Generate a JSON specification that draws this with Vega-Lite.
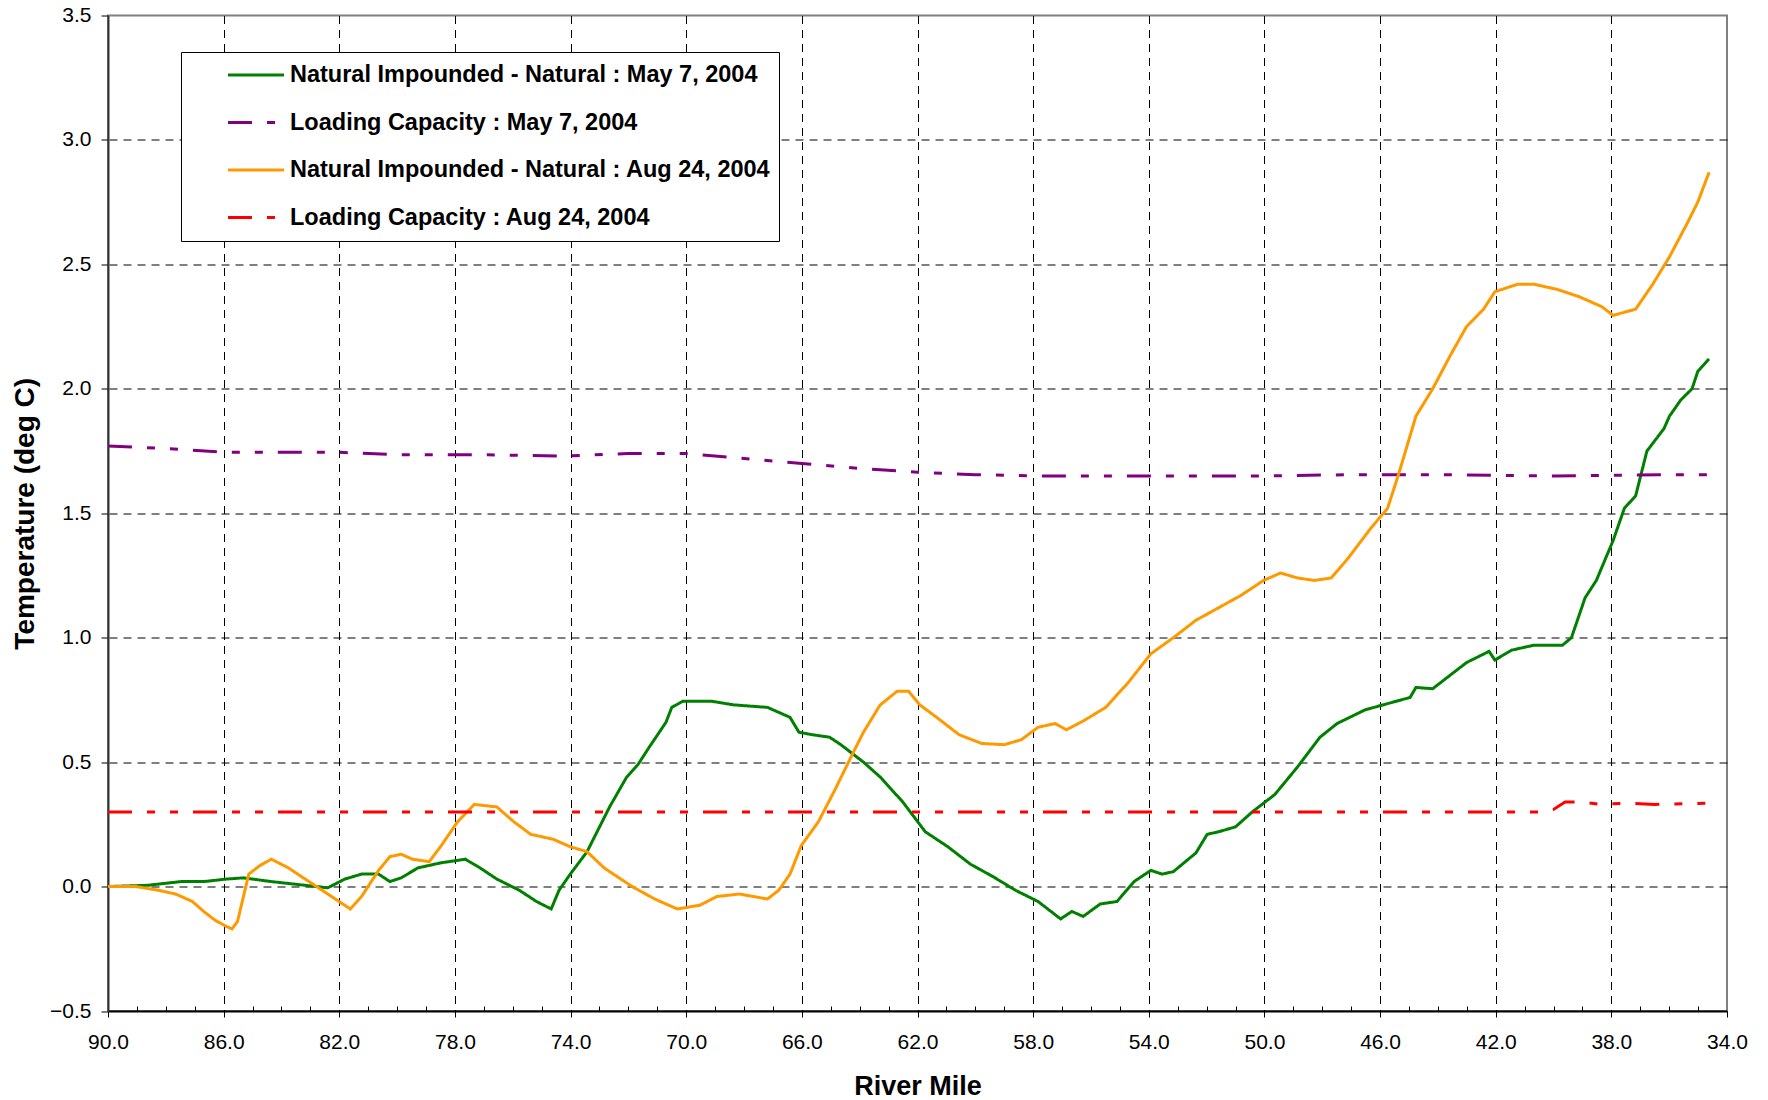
{
  "$schema": "https://vega.github.io/schema/vega-lite/v6.json",
  "width": 1619,
  "height": 995.5,
  "autosize": {"type": "none"},
  "padding": {"left": 108, "top": 15.5, "right": 41, "bottom": 89},
  "background": "white",
  "config": {"view": {"stroke": "#808080", "strokeWidth": 2}, "font": "Liberation Sans"},
  "data": {"values": [
    {"series": "Natural Impounded - Natural : May 7, 2004", "mile": 90.0, "temp": 0.0},
    {"series": "Natural Impounded - Natural : May 7, 2004", "mile": 88.64, "temp": 0.005},
    {"series": "Natural Impounded - Natural : May 7, 2004", "mile": 87.47, "temp": 0.02},
    {"series": "Natural Impounded - Natural : May 7, 2004", "mile": 86.69, "temp": 0.02},
    {"series": "Natural Impounded - Natural : May 7, 2004", "mile": 85.91, "temp": 0.03},
    {"series": "Natural Impounded - Natural : May 7, 2004", "mile": 85.32, "temp": 0.035},
    {"series": "Natural Impounded - Natural : May 7, 2004", "mile": 84.35, "temp": 0.02},
    {"series": "Natural Impounded - Natural : May 7, 2004", "mile": 83.57, "temp": 0.01},
    {"series": "Natural Impounded - Natural : May 7, 2004", "mile": 82.4, "temp": -0.005},
    {"series": "Natural Impounded - Natural : May 7, 2004", "mile": 81.81, "temp": 0.03},
    {"series": "Natural Impounded - Natural : May 7, 2004", "mile": 81.23, "temp": 0.05},
    {"series": "Natural Impounded - Natural : May 7, 2004", "mile": 80.64, "temp": 0.05},
    {"series": "Natural Impounded - Natural : May 7, 2004", "mile": 80.25, "temp": 0.02},
    {"series": "Natural Impounded - Natural : May 7, 2004", "mile": 79.86, "temp": 0.035},
    {"series": "Natural Impounded - Natural : May 7, 2004", "mile": 79.28, "temp": 0.075},
    {"series": "Natural Impounded - Natural : May 7, 2004", "mile": 78.5, "temp": 0.095},
    {"series": "Natural Impounded - Natural : May 7, 2004", "mile": 77.64, "temp": 0.11},
    {"series": "Natural Impounded - Natural : May 7, 2004", "mile": 77.13, "temp": 0.075},
    {"series": "Natural Impounded - Natural : May 7, 2004", "mile": 76.55, "temp": 0.03},
    {"series": "Natural Impounded - Natural : May 7, 2004", "mile": 75.77, "temp": -0.015},
    {"series": "Natural Impounded - Natural : May 7, 2004", "mile": 75.18, "temp": -0.06},
    {"series": "Natural Impounded - Natural : May 7, 2004", "mile": 74.67, "temp": -0.09},
    {"series": "Natural Impounded - Natural : May 7, 2004", "mile": 74.4, "temp": -0.015},
    {"series": "Natural Impounded - Natural : May 7, 2004", "mile": 74.01, "temp": 0.05},
    {"series": "Natural Impounded - Natural : May 7, 2004", "mile": 73.43, "temp": 0.14},
    {"series": "Natural Impounded - Natural : May 7, 2004", "mile": 73.04, "temp": 0.23},
    {"series": "Natural Impounded - Natural : May 7, 2004", "mile": 72.65, "temp": 0.32},
    {"series": "Natural Impounded - Natural : May 7, 2004", "mile": 72.06, "temp": 0.44},
    {"series": "Natural Impounded - Natural : May 7, 2004", "mile": 71.67, "temp": 0.49},
    {"series": "Natural Impounded - Natural : May 7, 2004", "mile": 71.28, "temp": 0.56},
    {"series": "Natural Impounded - Natural : May 7, 2004", "mile": 70.7, "temp": 0.66},
    {"series": "Natural Impounded - Natural : May 7, 2004", "mile": 70.5, "temp": 0.72},
    {"series": "Natural Impounded - Natural : May 7, 2004", "mile": 70.11, "temp": 0.745},
    {"series": "Natural Impounded - Natural : May 7, 2004", "mile": 69.14, "temp": 0.745},
    {"series": "Natural Impounded - Natural : May 7, 2004", "mile": 68.36, "temp": 0.73},
    {"series": "Natural Impounded - Natural : May 7, 2004", "mile": 67.19, "temp": 0.72},
    {"series": "Natural Impounded - Natural : May 7, 2004", "mile": 66.41, "temp": 0.68},
    {"series": "Natural Impounded - Natural : May 7, 2004", "mile": 66.1, "temp": 0.62},
    {"series": "Natural Impounded - Natural : May 7, 2004", "mile": 65.63, "temp": 0.61},
    {"series": "Natural Impounded - Natural : May 7, 2004", "mile": 65.04, "temp": 0.6},
    {"series": "Natural Impounded - Natural : May 7, 2004", "mile": 64.65, "temp": 0.57},
    {"series": "Natural Impounded - Natural : May 7, 2004", "mile": 63.87, "temp": 0.5},
    {"series": "Natural Impounded - Natural : May 7, 2004", "mile": 63.29, "temp": 0.44},
    {"series": "Natural Impounded - Natural : May 7, 2004", "mile": 62.51, "temp": 0.34},
    {"series": "Natural Impounded - Natural : May 7, 2004", "mile": 61.73, "temp": 0.22},
    {"series": "Natural Impounded - Natural : May 7, 2004", "mile": 60.95, "temp": 0.16},
    {"series": "Natural Impounded - Natural : May 7, 2004", "mile": 60.17, "temp": 0.09},
    {"series": "Natural Impounded - Natural : May 7, 2004", "mile": 59.39, "temp": 0.04},
    {"series": "Natural Impounded - Natural : May 7, 2004", "mile": 58.61, "temp": -0.015},
    {"series": "Natural Impounded - Natural : May 7, 2004", "mile": 57.83, "temp": -0.06},
    {"series": "Natural Impounded - Natural : May 7, 2004", "mile": 57.05, "temp": -0.13},
    {"series": "Natural Impounded - Natural : May 7, 2004", "mile": 56.66, "temp": -0.1},
    {"series": "Natural Impounded - Natural : May 7, 2004", "mile": 56.27, "temp": -0.12},
    {"series": "Natural Impounded - Natural : May 7, 2004", "mile": 55.68, "temp": -0.07},
    {"series": "Natural Impounded - Natural : May 7, 2004", "mile": 55.1, "temp": -0.06},
    {"series": "Natural Impounded - Natural : May 7, 2004", "mile": 54.51, "temp": 0.02},
    {"series": "Natural Impounded - Natural : May 7, 2004", "mile": 53.93, "temp": 0.065},
    {"series": "Natural Impounded - Natural : May 7, 2004", "mile": 53.54, "temp": 0.05},
    {"series": "Natural Impounded - Natural : May 7, 2004", "mile": 53.15, "temp": 0.06},
    {"series": "Natural Impounded - Natural : May 7, 2004", "mile": 52.37, "temp": 0.135},
    {"series": "Natural Impounded - Natural : May 7, 2004", "mile": 51.98, "temp": 0.21},
    {"series": "Natural Impounded - Natural : May 7, 2004", "mile": 51.59, "temp": 0.22},
    {"series": "Natural Impounded - Natural : May 7, 2004", "mile": 51.0, "temp": 0.24},
    {"series": "Natural Impounded - Natural : May 7, 2004", "mile": 50.42, "temp": 0.3},
    {"series": "Natural Impounded - Natural : May 7, 2004", "mile": 49.64, "temp": 0.37},
    {"series": "Natural Impounded - Natural : May 7, 2004", "mile": 48.86, "temp": 0.48},
    {"series": "Natural Impounded - Natural : May 7, 2004", "mile": 48.08, "temp": 0.6},
    {"series": "Natural Impounded - Natural : May 7, 2004", "mile": 47.49, "temp": 0.655},
    {"series": "Natural Impounded - Natural : May 7, 2004", "mile": 46.52, "temp": 0.71},
    {"series": "Natural Impounded - Natural : May 7, 2004", "mile": 45.74, "temp": 0.735},
    {"series": "Natural Impounded - Natural : May 7, 2004", "mile": 44.96, "temp": 0.76},
    {"series": "Natural Impounded - Natural : May 7, 2004", "mile": 44.76, "temp": 0.8},
    {"series": "Natural Impounded - Natural : May 7, 2004", "mile": 44.18, "temp": 0.795},
    {"series": "Natural Impounded - Natural : May 7, 2004", "mile": 43.79, "temp": 0.83},
    {"series": "Natural Impounded - Natural : May 7, 2004", "mile": 43.01, "temp": 0.9},
    {"series": "Natural Impounded - Natural : May 7, 2004", "mile": 42.23, "temp": 0.945},
    {"series": "Natural Impounded - Natural : May 7, 2004", "mile": 42.03, "temp": 0.91},
    {"series": "Natural Impounded - Natural : May 7, 2004", "mile": 41.45, "temp": 0.95},
    {"series": "Natural Impounded - Natural : May 7, 2004", "mile": 40.67, "temp": 0.97},
    {"series": "Natural Impounded - Natural : May 7, 2004", "mile": 39.69, "temp": 0.97},
    {"series": "Natural Impounded - Natural : May 7, 2004", "mile": 39.38, "temp": 1.0},
    {"series": "Natural Impounded - Natural : May 7, 2004", "mile": 38.91, "temp": 1.16},
    {"series": "Natural Impounded - Natural : May 7, 2004", "mile": 38.52, "temp": 1.23},
    {"series": "Natural Impounded - Natural : May 7, 2004", "mile": 37.94, "temp": 1.39},
    {"series": "Natural Impounded - Natural : May 7, 2004", "mile": 37.55, "temp": 1.52},
    {"series": "Natural Impounded - Natural : May 7, 2004", "mile": 37.16, "temp": 1.57},
    {"series": "Natural Impounded - Natural : May 7, 2004", "mile": 36.77, "temp": 1.75},
    {"series": "Natural Impounded - Natural : May 7, 2004", "mile": 36.18, "temp": 1.84},
    {"series": "Natural Impounded - Natural : May 7, 2004", "mile": 35.99, "temp": 1.89},
    {"series": "Natural Impounded - Natural : May 7, 2004", "mile": 35.6, "temp": 1.955},
    {"series": "Natural Impounded - Natural : May 7, 2004", "mile": 35.21, "temp": 2.0},
    {"series": "Natural Impounded - Natural : May 7, 2004", "mile": 35.01, "temp": 2.07},
    {"series": "Natural Impounded - Natural : May 7, 2004", "mile": 34.62, "temp": 2.12},

    {"series": "Loading Capacity : May 7, 2004", "mile": 90.0, "temp": 1.77},
    {"series": "Loading Capacity : May 7, 2004", "mile": 88.0, "temp": 1.76},
    {"series": "Loading Capacity : May 7, 2004", "mile": 85.9, "temp": 1.745},
    {"series": "Loading Capacity : May 7, 2004", "mile": 84.0, "temp": 1.745},
    {"series": "Loading Capacity : May 7, 2004", "mile": 82.0, "temp": 1.745},
    {"series": "Loading Capacity : May 7, 2004", "mile": 80.0, "temp": 1.735},
    {"series": "Loading Capacity : May 7, 2004", "mile": 77.0, "temp": 1.735},
    {"series": "Loading Capacity : May 7, 2004", "mile": 74.2, "temp": 1.73},
    {"series": "Loading Capacity : May 7, 2004", "mile": 72.0, "temp": 1.74},
    {"series": "Loading Capacity : May 7, 2004", "mile": 70.0, "temp": 1.74},
    {"series": "Loading Capacity : May 7, 2004", "mile": 68.0, "temp": 1.72},
    {"series": "Loading Capacity : May 7, 2004", "mile": 66.0, "temp": 1.7},
    {"series": "Loading Capacity : May 7, 2004", "mile": 64.0, "temp": 1.68},
    {"series": "Loading Capacity : May 7, 2004", "mile": 62.0, "temp": 1.665},
    {"series": "Loading Capacity : May 7, 2004", "mile": 60.0, "temp": 1.655},
    {"series": "Loading Capacity : May 7, 2004", "mile": 58.0, "temp": 1.65},
    {"series": "Loading Capacity : May 7, 2004", "mile": 54.0, "temp": 1.65},
    {"series": "Loading Capacity : May 7, 2004", "mile": 50.0, "temp": 1.65},
    {"series": "Loading Capacity : May 7, 2004", "mile": 47.0, "temp": 1.655},
    {"series": "Loading Capacity : May 7, 2004", "mile": 44.0, "temp": 1.655},
    {"series": "Loading Capacity : May 7, 2004", "mile": 40.0, "temp": 1.65},
    {"series": "Loading Capacity : May 7, 2004", "mile": 36.0, "temp": 1.655},
    {"series": "Loading Capacity : May 7, 2004", "mile": 34.62, "temp": 1.655},

    {"series": "Natural Impounded - Natural : Aug 24, 2004", "mile": 90.0, "temp": 0.0},
    {"series": "Natural Impounded - Natural : Aug 24, 2004", "mile": 89.03, "temp": 0.0},
    {"series": "Natural Impounded - Natural : Aug 24, 2004", "mile": 88.25, "temp": -0.015},
    {"series": "Natural Impounded - Natural : Aug 24, 2004", "mile": 87.66, "temp": -0.03},
    {"series": "Natural Impounded - Natural : Aug 24, 2004", "mile": 87.08, "temp": -0.06},
    {"series": "Natural Impounded - Natural : Aug 24, 2004", "mile": 86.69, "temp": -0.1},
    {"series": "Natural Impounded - Natural : Aug 24, 2004", "mile": 86.3, "temp": -0.135},
    {"series": "Natural Impounded - Natural : Aug 24, 2004", "mile": 85.91, "temp": -0.16},
    {"series": "Natural Impounded - Natural : Aug 24, 2004", "mile": 85.71, "temp": -0.17},
    {"series": "Natural Impounded - Natural : Aug 24, 2004", "mile": 85.52, "temp": -0.14},
    {"series": "Natural Impounded - Natural : Aug 24, 2004", "mile": 85.13, "temp": 0.05},
    {"series": "Natural Impounded - Natural : Aug 24, 2004", "mile": 84.74, "temp": 0.085},
    {"series": "Natural Impounded - Natural : Aug 24, 2004", "mile": 84.35, "temp": 0.11},
    {"series": "Natural Impounded - Natural : Aug 24, 2004", "mile": 83.76, "temp": 0.075},
    {"series": "Natural Impounded - Natural : Aug 24, 2004", "mile": 83.18, "temp": 0.03},
    {"series": "Natural Impounded - Natural : Aug 24, 2004", "mile": 82.59, "temp": -0.015},
    {"series": "Natural Impounded - Natural : Aug 24, 2004", "mile": 82.01, "temp": -0.06},
    {"series": "Natural Impounded - Natural : Aug 24, 2004", "mile": 81.62, "temp": -0.09},
    {"series": "Natural Impounded - Natural : Aug 24, 2004", "mile": 81.23, "temp": -0.04},
    {"series": "Natural Impounded - Natural : Aug 24, 2004", "mile": 80.64, "temp": 0.065},
    {"series": "Natural Impounded - Natural : Aug 24, 2004", "mile": 80.25, "temp": 0.12},
    {"series": "Natural Impounded - Natural : Aug 24, 2004", "mile": 79.86, "temp": 0.13},
    {"series": "Natural Impounded - Natural : Aug 24, 2004", "mile": 79.47, "temp": 0.11},
    {"series": "Natural Impounded - Natural : Aug 24, 2004", "mile": 78.89, "temp": 0.1},
    {"series": "Natural Impounded - Natural : Aug 24, 2004", "mile": 78.5, "temp": 0.16},
    {"series": "Natural Impounded - Natural : Aug 24, 2004", "mile": 77.91, "temp": 0.26},
    {"series": "Natural Impounded - Natural : Aug 24, 2004", "mile": 77.33, "temp": 0.33},
    {"series": "Natural Impounded - Natural : Aug 24, 2004", "mile": 76.55, "temp": 0.32},
    {"series": "Natural Impounded - Natural : Aug 24, 2004", "mile": 75.96, "temp": 0.26},
    {"series": "Natural Impounded - Natural : Aug 24, 2004", "mile": 75.38, "temp": 0.21},
    {"series": "Natural Impounded - Natural : Aug 24, 2004", "mile": 74.6, "temp": 0.19},
    {"series": "Natural Impounded - Natural : Aug 24, 2004", "mile": 74.01, "temp": 0.16},
    {"series": "Natural Impounded - Natural : Aug 24, 2004", "mile": 73.43, "temp": 0.14},
    {"series": "Natural Impounded - Natural : Aug 24, 2004", "mile": 72.84, "temp": 0.075},
    {"series": "Natural Impounded - Natural : Aug 24, 2004", "mile": 71.87, "temp": 0.0},
    {"series": "Natural Impounded - Natural : Aug 24, 2004", "mile": 71.09, "temp": -0.05},
    {"series": "Natural Impounded - Natural : Aug 24, 2004", "mile": 70.31, "temp": -0.09},
    {"series": "Natural Impounded - Natural : Aug 24, 2004", "mile": 69.53, "temp": -0.075},
    {"series": "Natural Impounded - Natural : Aug 24, 2004", "mile": 68.94, "temp": -0.04},
    {"series": "Natural Impounded - Natural : Aug 24, 2004", "mile": 68.16, "temp": -0.03},
    {"series": "Natural Impounded - Natural : Aug 24, 2004", "mile": 67.19, "temp": -0.05},
    {"series": "Natural Impounded - Natural : Aug 24, 2004", "mile": 66.8, "temp": -0.015},
    {"series": "Natural Impounded - Natural : Aug 24, 2004", "mile": 66.41, "temp": 0.05},
    {"series": "Natural Impounded - Natural : Aug 24, 2004", "mile": 66.02, "temp": 0.165},
    {"series": "Natural Impounded - Natural : Aug 24, 2004", "mile": 65.43, "temp": 0.26},
    {"series": "Natural Impounded - Natural : Aug 24, 2004", "mile": 64.85, "temp": 0.39},
    {"series": "Natural Impounded - Natural : Aug 24, 2004", "mile": 64.26, "temp": 0.53},
    {"series": "Natural Impounded - Natural : Aug 24, 2004", "mile": 63.87, "temp": 0.62},
    {"series": "Natural Impounded - Natural : Aug 24, 2004", "mile": 63.29, "temp": 0.73},
    {"series": "Natural Impounded - Natural : Aug 24, 2004", "mile": 62.7, "temp": 0.785},
    {"series": "Natural Impounded - Natural : Aug 24, 2004", "mile": 62.31, "temp": 0.785},
    {"series": "Natural Impounded - Natural : Aug 24, 2004", "mile": 61.92, "temp": 0.73},
    {"series": "Natural Impounded - Natural : Aug 24, 2004", "mile": 61.34, "temp": 0.68},
    {"series": "Natural Impounded - Natural : Aug 24, 2004", "mile": 60.56, "temp": 0.61},
    {"series": "Natural Impounded - Natural : Aug 24, 2004", "mile": 59.78, "temp": 0.575},
    {"series": "Natural Impounded - Natural : Aug 24, 2004", "mile": 59.0, "temp": 0.57},
    {"series": "Natural Impounded - Natural : Aug 24, 2004", "mile": 58.41, "temp": 0.59},
    {"series": "Natural Impounded - Natural : Aug 24, 2004", "mile": 57.83, "temp": 0.64},
    {"series": "Natural Impounded - Natural : Aug 24, 2004", "mile": 57.24, "temp": 0.655},
    {"series": "Natural Impounded - Natural : Aug 24, 2004", "mile": 56.85, "temp": 0.63},
    {"series": "Natural Impounded - Natural : Aug 24, 2004", "mile": 56.27, "temp": 0.665},
    {"series": "Natural Impounded - Natural : Aug 24, 2004", "mile": 55.49, "temp": 0.72},
    {"series": "Natural Impounded - Natural : Aug 24, 2004", "mile": 54.71, "temp": 0.82},
    {"series": "Natural Impounded - Natural : Aug 24, 2004", "mile": 53.93, "temp": 0.935},
    {"series": "Natural Impounded - Natural : Aug 24, 2004", "mile": 53.15, "temp": 1.0},
    {"series": "Natural Impounded - Natural : Aug 24, 2004", "mile": 52.37, "temp": 1.07},
    {"series": "Natural Impounded - Natural : Aug 24, 2004", "mile": 51.59, "temp": 1.12},
    {"series": "Natural Impounded - Natural : Aug 24, 2004", "mile": 50.81, "temp": 1.17},
    {"series": "Natural Impounded - Natural : Aug 24, 2004", "mile": 50.03, "temp": 1.23},
    {"series": "Natural Impounded - Natural : Aug 24, 2004", "mile": 49.44, "temp": 1.26},
    {"series": "Natural Impounded - Natural : Aug 24, 2004", "mile": 48.86, "temp": 1.24},
    {"series": "Natural Impounded - Natural : Aug 24, 2004", "mile": 48.27, "temp": 1.23},
    {"series": "Natural Impounded - Natural : Aug 24, 2004", "mile": 47.69, "temp": 1.24},
    {"series": "Natural Impounded - Natural : Aug 24, 2004", "mile": 47.1, "temp": 1.32},
    {"series": "Natural Impounded - Natural : Aug 24, 2004", "mile": 46.32, "temp": 1.44},
    {"series": "Natural Impounded - Natural : Aug 24, 2004", "mile": 45.74, "temp": 1.52},
    {"series": "Natural Impounded - Natural : Aug 24, 2004", "mile": 45.35, "temp": 1.66},
    {"series": "Natural Impounded - Natural : Aug 24, 2004", "mile": 44.76, "temp": 1.89},
    {"series": "Natural Impounded - Natural : Aug 24, 2004", "mile": 44.18, "temp": 2.0},
    {"series": "Natural Impounded - Natural : Aug 24, 2004", "mile": 43.59, "temp": 2.13},
    {"series": "Natural Impounded - Natural : Aug 24, 2004", "mile": 43.01, "temp": 2.25},
    {"series": "Natural Impounded - Natural : Aug 24, 2004", "mile": 42.42, "temp": 2.32},
    {"series": "Natural Impounded - Natural : Aug 24, 2004", "mile": 42.03, "temp": 2.39},
    {"series": "Natural Impounded - Natural : Aug 24, 2004", "mile": 41.25, "temp": 2.42},
    {"series": "Natural Impounded - Natural : Aug 24, 2004", "mile": 40.67, "temp": 2.42},
    {"series": "Natural Impounded - Natural : Aug 24, 2004", "mile": 39.89, "temp": 2.4},
    {"series": "Natural Impounded - Natural : Aug 24, 2004", "mile": 39.11, "temp": 2.37},
    {"series": "Natural Impounded - Natural : Aug 24, 2004", "mile": 38.33, "temp": 2.33},
    {"series": "Natural Impounded - Natural : Aug 24, 2004", "mile": 37.94, "temp": 2.295},
    {"series": "Natural Impounded - Natural : Aug 24, 2004", "mile": 37.16, "temp": 2.32},
    {"series": "Natural Impounded - Natural : Aug 24, 2004", "mile": 36.57, "temp": 2.42},
    {"series": "Natural Impounded - Natural : Aug 24, 2004", "mile": 35.99, "temp": 2.53},
    {"series": "Natural Impounded - Natural : Aug 24, 2004", "mile": 35.4, "temp": 2.66},
    {"series": "Natural Impounded - Natural : Aug 24, 2004", "mile": 35.01, "temp": 2.75},
    {"series": "Natural Impounded - Natural : Aug 24, 2004", "mile": 34.62, "temp": 2.87},

    {"series": "Loading Capacity : Aug 24, 2004", "mile": 90.0, "temp": 0.3},
    {"series": "Loading Capacity : Aug 24, 2004", "mile": 70.0, "temp": 0.3},
    {"series": "Loading Capacity : Aug 24, 2004", "mile": 50.0, "temp": 0.3},
    {"series": "Loading Capacity : Aug 24, 2004", "mile": 40.5, "temp": 0.3},
    {"series": "Loading Capacity : Aug 24, 2004", "mile": 40.0, "temp": 0.31},
    {"series": "Loading Capacity : Aug 24, 2004", "mile": 39.6, "temp": 0.34},
    {"series": "Loading Capacity : Aug 24, 2004", "mile": 39.0, "temp": 0.34},
    {"series": "Loading Capacity : Aug 24, 2004", "mile": 38.4, "temp": 0.33},
    {"series": "Loading Capacity : Aug 24, 2004", "mile": 37.5, "temp": 0.335},
    {"series": "Loading Capacity : Aug 24, 2004", "mile": 36.5, "temp": 0.33},
    {"series": "Loading Capacity : Aug 24, 2004", "mile": 34.62, "temp": 0.335}
  ]},
  "mark": {"type": "line", "strokeWidth": 3},
  "encoding": {
    "x": {
      "field": "mile", "type": "quantitative",
      "scale": {"domain": [34, 90], "reverse": true, "nice": false, "zero": false},
      "axis": {
        "values": [90,89,88,87,86,85,84,83,82,81,80,79,78,77,76,75,74,73,72,71,70,69,68,67,66,65,64,63,62,61,60,59,58,57,56,55,54,53,52,51,50,49,48,47,46,45,44,43,42,41,40,39,38,37,36,35,34],
        "title": "River Mile",
        "titleFont": "Liberation Sans", "titleFontSize": 27, "titleFontWeight": "bold", "titleColor": "black", "titlePadding": 21,
        "labelExpr": "datum.value % 4 === 2 ? format(datum.value, '.1f') : ''",
        "labelFont": "Liberation Sans", "labelFontSize": 21, "labelColor": "black", "labelPadding": 14,
        "labelOverlap": false, "labelFlush": false, "labelBound": false,
        "domainColor": "black", "domainWidth": 2,
        "tickColor": "black", "tickWidth": 1,
        "tickSize": {"condition": {"test": "datum.value % 4 === 2", "value": 6}, "value": -5},
        "grid": true, "gridColor": "black", "gridDash": [8, 6], "gridWidth": 1,
        "gridOpacity": {"condition": {"test": "datum.value % 4 === 2 && datum.value > 34 && datum.value < 90", "value": 1}, "value": 0}
      }
    },
    "y": {
      "field": "temp", "type": "quantitative",
      "scale": {"domain": [-0.5, 3.5], "nice": false, "zero": false},
      "axis": {
        "values": [-0.5, 0, 0.5, 1, 1.5, 2, 2.5, 3, 3.5],
        "format": ".1f",
        "title": "Temperature (deg C)",
        "titleFont": "Liberation Sans", "titleFontSize": 28, "titleFontWeight": "bold", "titleColor": "black", "titlePadding": 10,
        "labelFont": "Liberation Sans", "labelFontSize": 21, "labelColor": "black", "labelPadding": 10,
        "domainColor": "#333333", "domainWidth": 2,
        "tickColor": "black", "tickWidth": 1, "tickSize": 7,
        "grid": true, "gridColor": "black", "gridDash": [8, 6], "gridWidth": 1,
        "gridOpacity": {"condition": {"test": "datum.value > -0.5 && datum.value < 3.5", "value": 1}, "value": 0}
      }
    },
    "color": {
      "field": "series", "type": "nominal",
      "scale": {
        "domain": ["Natural Impounded - Natural : May 7, 2004", "Loading Capacity : May 7, 2004", "Natural Impounded - Natural : Aug 24, 2004", "Loading Capacity : Aug 24, 2004"],
        "range": ["#008000", "#800080", "#FF9900", "#FF0000"]
      },
      "legend": {
        "title": null, "orient": "none", "legendX": 73, "legendY": 36.5,
        "symbolType": "stroke", "symbolSize": 3136, "symbolStrokeWidth": 3, "symbolOffset": 37.5,
        "labelFont": "Liberation Sans", "labelFontSize": 23.5, "labelFontWeight": "bold", "labelColor": "black", "labelOffset": 4.5, "labelLimit": 0,
        "labelExpr": "datum.label + '\u2003\u2002'",
        "clipHeight": 30,
        "strokeColor": "black", "fillColor": "white", "padding": 8, "rowPadding": 17.5
      }
    },
    "strokeDash": {
      "field": "series", "type": "nominal",
      "scale": {
        "domain": ["Natural Impounded - Natural : May 7, 2004", "Loading Capacity : May 7, 2004", "Natural Impounded - Natural : Aug 24, 2004", "Loading Capacity : Aug 24, 2004"],
        "range": [[1, 0], [24, 15, 8, 15, 8, 15], [1, 0], [24, 15, 8, 15, 8, 15]]
      },
      "legend": {
        "title": null, "orient": "none", "legendX": 73, "legendY": 36.5,
        "symbolType": "stroke", "symbolSize": 3136, "symbolStrokeWidth": 3, "symbolOffset": 37.5,
        "labelFont": "Liberation Sans", "labelFontSize": 23.5, "labelFontWeight": "bold", "labelColor": "black", "labelOffset": 4.5, "labelLimit": 0,
        "labelExpr": "datum.label + '\u2003\u2002'",
        "clipHeight": 30,
        "strokeColor": "black", "fillColor": "white", "padding": 8, "rowPadding": 17.5
      }
    }
  }
}
